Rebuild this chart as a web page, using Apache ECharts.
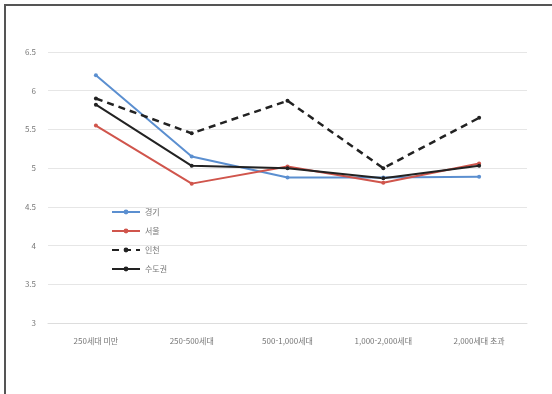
<!DOCTYPE html>
<html lang="ko">
<head>
<meta charset="UTF-8">
<script src="https://cdn.jsdelivr.net/npm/echarts@6/dist/echarts.min.js"></script>
<style>
  body { margin: 0; background: #fff; }
  #frame { position: absolute; left: 4px; top: 4px; width: 548px; height: 390px;
           border-left: 2px solid #555; border-top: 2px solid #555; }
  #chart { width: 552px; height: 394px; }
</style>
</head>
<body>
<div id="frame"></div>
<div id="chart"></div>
<script>
  var categories = ['250세대 미만', '250-500세대', '500-1,000세대', '1,000-2,000세대', '2,000세대 초과'];
  var gyeonggi = [6.2, 5.15, 4.88, 4.88, 4.89];
  var seoul = [5.55, 4.8, 5.02, 4.81, 5.06];
  var incheon = [5.9, 5.45, 5.87, 5.0, 5.65];
  var capital = [5.82, 5.03, 5.0, 4.87, 5.03];

  var chart = echarts.init(document.getElementById('chart'));
  var lbl = { color: '#777', fontSize: 8, fontFamily: 'Noto Sans CJK KR' };

  function line(name, data, color, dashed) {
    return {
      name: name, type: 'line', data: data,
      symbol: 'circle', symbolSize: 4,
      itemStyle: { color: color },
      lineStyle: { color: color, width: dashed ? 2.5 : 2, type: dashed ? [7, 5] : 'solid' }
    };
  }

  chart.setOption({
    animation: false,
    grid: { left: 48, right: 25, top: 52, bottom: 71 },
    legend: {
      orient: 'vertical', left: 106, top: 203, itemGap: 11,
      itemWidth: 28, itemHeight: 6,
      textStyle: lbl,
      data: ['경기', '서울', '인천', '수도권']
    },
    xAxis: {
      type: 'category', data: categories, boundaryGap: true,
      axisLine: { lineStyle: { color: '#ddd' } },
      axisTick: { show: false },
      axisLabel: Object.assign({ margin: 14 }, lbl)
    },
    yAxis: {
      type: 'value', min: 3, max: 6.5, interval: 0.5,
      axisLine: { show: false }, axisTick: { show: false },
      axisLabel: Object.assign({ margin: 12 }, lbl),
      splitLine: { lineStyle: { color: '#e6e6e6' } }
    },
    series: [
      line('경기', gyeonggi, '#5b8fd0', false),
      line('서울', seoul, '#d0554c', false),
      line('인천', incheon, '#222', true),
      line('수도권', capital, '#222', false)
    ]
  });
</script>
</body>
</html>
